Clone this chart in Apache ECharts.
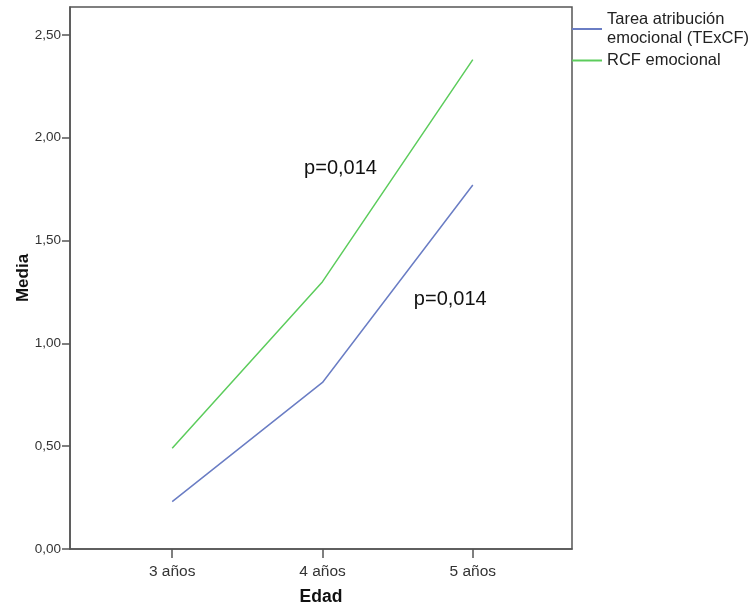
<!DOCTYPE html>
<html>
<head>
<meta charset="utf-8">
<script src="https://cdn.jsdelivr.net/npm/echarts@6/dist/echarts.min.js"></script>
<style>
  html, body { margin: 0; padding: 0; background: #fff; }
  #main { width: 749px; height: 607px; }
</style>
</head>
<body>
<div id="main"></div>
<script>
// categorias (edad) y medias por serie
var edades = ['3 años', '4 años', '5 años'];
var edadPos = [3, 4, 5];
var tareaTExCF = [0.23, 0.81, 1.77];
var rcfEmocional = [0.49, 1.30, 2.38];
var yTicks = [0, 0.5, 1, 1.5, 2, 2.5];

function pares(vals) {
    return vals.map(function (v, i) { return [edadPos[i], v]; });
}

var chart = echarts.init(document.getElementById('main'));
chart.setOption({
    animation: false,
    textStyle: { fontFamily: 'Liberation Sans, Arial, sans-serif' },
    grid: {
        left: 70, right: 177, top: 7, bottom: 58,
        outerBoundsMode: 'none',
        containLabel: false,
        show: true,
        borderColor: '#555',
        borderWidth: 1.5
    },
    legend: {
        orient: 'vertical',
        left: 572, top: 10,
        padding: 0,
        itemWidth: 30, itemHeight: 2,
        itemGap: 3,
        icon: 'rect',
        textStyle: { fontSize: 16.5, color: '#222', lineHeight: 19 },
        data: [
            { name: 'Tarea atribución\nemocional (TExCF)' },
            { name: 'RCF emocional' }
        ]
    },
    xAxis: {
        type: 'value',
        min: 2.32, max: 5.66,
        name: 'Edad',
        nameLocation: 'middle',
        nameGap: 39,
        nameTextStyle: { fontWeight: 'bold', fontSize: 17.5, color: '#111' },
        axisLine: { lineStyle: { color: '#555', width: 1.5 } },
        axisTick: { show: true, length: 9, customValues: edadPos, lineStyle: { color: '#555', width: 1.5 } },
        axisLabel: {
            customValues: edadPos,
            fontSize: 15.5, color: '#333', margin: 15,
            formatter: function (v) { return edades[edadPos.indexOf(v)] || ''; }
        },
        splitLine: { show: false }
    },
    yAxis: {
        type: 'value',
        min: 0, max: 2.636,
        name: 'Media',
        nameLocation: 'middle',
        nameMoveOverlap: false,
        nameGap: 38,
        nameTextStyle: { fontWeight: 'bold', fontSize: 17, color: '#111' },
        axisLine: { show: true, lineStyle: { color: '#555', width: 1.5 } },
        axisTick: { show: true, length: 8, customValues: yTicks, lineStyle: { color: '#555', width: 1.5 } },
        axisLabel: {
            customValues: yTicks,
            fontSize: 13.5, color: '#333', margin: 9,
            formatter: function (v) { return v.toFixed(2).replace('.', ','); }
        },
        splitLine: { show: false }
    },
    series: [
        {
            name: 'Tarea atribución\nemocional (TExCF)',
            type: 'line',
            data: pares(tareaTExCF),
            symbol: 'none',
            color: '#6a7dc4',
            lineStyle: { width: 1.5, color: '#6a7dc4' },
            markPoint: {
                symbol: 'circle', symbolSize: 0,
                label: { show: true, formatter: 'p=0,014', fontSize: 20, color: '#111' },
                data: [{ coord: [4.85, 1.215] }]
            }
        },
        {
            name: 'RCF emocional',
            type: 'line',
            data: pares(rcfEmocional),
            symbol: 'none',
            color: '#5ccc5c',
            lineStyle: { width: 1.5, color: '#5ccc5c' },
            markPoint: {
                symbol: 'circle', symbolSize: 0,
                label: { show: true, formatter: 'p=0,014', fontSize: 20, color: '#111' },
                data: [{ coord: [4.12, 1.85] }]
            }
        }
    ]
});
</script>
</body>
</html>
